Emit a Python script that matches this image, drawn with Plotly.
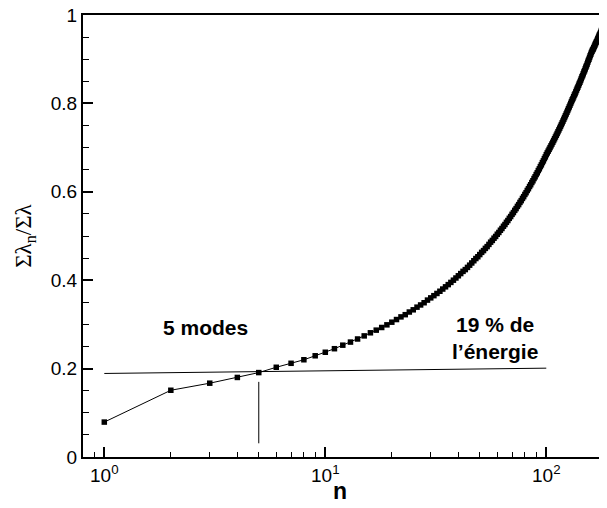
import plotly.graph_objects as go

n_modes = list(range(1, 191))
cum_energy = [
    0.079, 0.151, 0.167, 0.180, 0.191, 0.203, 0.212, 0.220, 0.229, 0.237,
    0.245, 0.253, 0.260, 0.267, 0.274, 0.281, 0.287, 0.293, 0.299, 0.305,
    0.311, 0.317, 0.322, 0.328, 0.333, 0.339, 0.344, 0.349, 0.355, 0.360,
    0.365, 0.370, 0.375, 0.380, 0.385, 0.390, 0.395, 0.400, 0.405, 0.410,
    0.415, 0.420, 0.424, 0.429, 0.434, 0.439, 0.444, 0.449, 0.453, 0.458,
    0.463, 0.467, 0.472, 0.476, 0.481, 0.486, 0.490, 0.495, 0.499, 0.504,
    0.508, 0.513, 0.517, 0.522, 0.526, 0.531, 0.535, 0.540, 0.544, 0.549,
    0.553, 0.558, 0.562, 0.567, 0.571, 0.576, 0.580, 0.585, 0.589, 0.594,
    0.598, 0.603, 0.607, 0.612, 0.616, 0.621, 0.625, 0.630, 0.634, 0.639,
    0.643, 0.648, 0.652, 0.657, 0.661, 0.666, 0.670, 0.675, 0.679, 0.684,
    0.688, 0.692, 0.696, 0.700, 0.704, 0.708, 0.712, 0.716, 0.720, 0.724,
    0.728, 0.732, 0.736, 0.740, 0.744, 0.748, 0.752, 0.756, 0.760, 0.764,
    0.768, 0.772, 0.776, 0.780, 0.784, 0.788, 0.792, 0.796, 0.800, 0.804,
    0.808, 0.811, 0.815, 0.819, 0.822, 0.826, 0.830, 0.834, 0.837, 0.841,
    0.845, 0.848, 0.852, 0.856, 0.860, 0.863, 0.867, 0.871, 0.874, 0.878,
    0.882, 0.885, 0.889, 0.893, 0.897, 0.900, 0.904, 0.908, 0.911, 0.915,
    0.918, 0.921, 0.923, 0.926, 0.929, 0.932, 0.935, 0.938, 0.940, 0.943,
    0.946, 0.949, 0.952, 0.955, 0.957, 0.960, 0.963, 0.966, 0.969, 0.972,
    0.974, 0.977, 0.980, 0.983, 0.986, 0.989, 0.991, 0.994, 0.997, 1.000,
]

threshold_n = [1, 100]
threshold_val = [0.189, 0.201]
cut_n = [5, 5]
cut_val = [0.031, 0.170]

y_tickvals = [0, 0.2, 0.4, 0.6, 0.8, 1]
y_ticktext = ["0", "0.2", "0.4", "0.6", "0.8", "1"]
y_minor = [0.05, 0.1, 0.15, 0.25, 0.3, 0.35, 0.45, 0.5, 0.55,
           0.65, 0.7, 0.75, 0.85, 0.9, 0.95]
x_tickvals = [1, 10, 100]
x_ticktext = ["10<sup>0</sup>", "10<sup>1</sup>", "10<sup>2</sup>"]
x_minor = [0.9, 2, 3, 4, 5, 6, 7, 8, 9, 20, 30, 40, 50, 60, 70, 80, 90]

FONT = "Arial, Liberation Sans, sans-serif"

fig = go.Figure()
fig.add_trace(go.Scatter(x=threshold_n, y=threshold_val, mode="lines",
                         line=dict(color="black", width=1), showlegend=False))
fig.add_trace(go.Scatter(x=cut_n, y=cut_val, mode="lines",
                         line=dict(color="black", width=1), showlegend=False))
fig.add_trace(go.Scatter(x=n_modes, y=cum_energy, mode="lines+markers",
                         line=dict(color="black", width=1),
                         marker=dict(symbol="square", size=5.5, color="black"),
                         showlegend=False))

# the page body has an 8px default margin, so the figure is sized to fit
fig.update_layout(
    width=599, height=500,
    margin=dict(l=75, r=0, t=7, b=51),
    paper_bgcolor="white", plot_bgcolor="white",
    font=dict(family=FONT, size=19, color="black"),
    xaxis=dict(
        type="log", range=[-0.0964, 2.2747], automargin=False,
        tickmode="array", tickvals=x_tickvals, ticktext=x_ticktext,
        ticks="inside", ticklen=10, tickwidth=1.5, tickcolor="black",
        minor=dict(tickmode="array", tickvals=x_minor, ticks="inside",
                   ticklen=5, tickwidth=1, tickcolor="black"),
        showline=True, linewidth=2, linecolor="black", mirror=True,
        showgrid=False, zeroline=False, ticklabeloverflow="allow",
        tickfont=dict(size=19),
    ),
    yaxis=dict(
        range=[0, 1], automargin=False,
        tickmode="array", tickvals=y_tickvals, ticktext=y_ticktext,
        ticks="inside", ticklen=10, tickwidth=1.5, tickcolor="black",
        minor=dict(tickmode="array", tickvals=y_minor, ticks="inside",
                   ticklen=6, tickwidth=1, tickcolor="black"),
        showline=True, linewidth=2, linecolor="black",
        showgrid=False, zeroline=False, ticklabeloverflow="allow",
        tickfont=dict(size=19),
    ),
    annotations=[
        dict(text="Σλ<sub>n</sub>/Σλ", xref="paper", yref="paper",
             x=-0.111, y=0.5, textangle=-90, showarrow=False,
             xanchor="center", yanchor="middle",
             font=dict(family="Liberation Serif, Times New Roman, serif", size=23)),
        dict(text="<b>n</b>", xref="paper", yref="paper",
             x=0.49, y=-0.077, showarrow=False,
             xanchor="center", yanchor="middle", font=dict(size=23)),
        # x positions of these notes are in log10 units (log axis)
        dict(text="<b>5 modes</b>", x=0.46, y=0.292, xref="x", yref="y",
             xanchor="center", yanchor="middle", showarrow=False,
             font=dict(size=21)),
        dict(text="<b>19 % de<br>l’énergie</b>", x=1.77, y=0.27,
             xref="x", yref="y", xanchor="center", yanchor="middle",
             showarrow=False, font=dict(size=21)),
    ],
)

fig.write_html("out.html")
